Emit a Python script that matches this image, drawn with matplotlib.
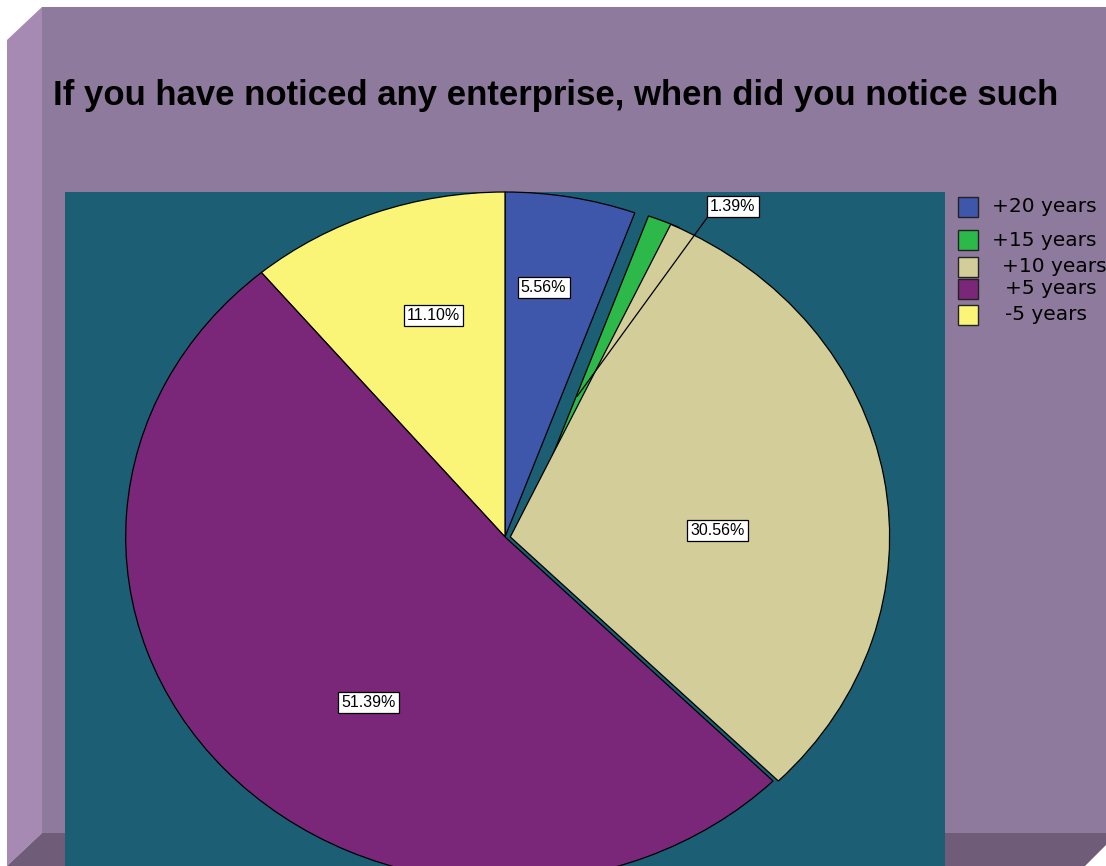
import numpy as np
import matplotlib.pyplot as plt
from matplotlib.patches import Polygon, Rectangle

# Survey answers (percent of respondents)
categories = ['+20 years', '+15 years', '+10 years', '+5 years', '-5 years']
shares = [5.56, 1.39, 30.56, 51.39, 11.10]
colors = ['#3F57AB', '#2DB84A', '#D3CD99', '#7B2779', '#FAF577']
title = 'If you have noticed any enterprise, when did you notice such'

# slice styling: shift (data units), draw order, label radius and turn
shift = [(0, 0), (0.036, -0.009), (0.014, 0), (0, 0), (0, 0)]
order = [1, 2, 3, 4, 1]
label_r = [0.73, 0.45, 0.56, 0.60, 0.67]
label_turn = [2, 0, -8, 10.6, -3.6]

face, light, dark, teal = '#8E7A9C', '#A68AB4', '#6E5C78', '#1C5E73'

fig = plt.figure(figsize=(11.06, 8.66), dpi=100, facecolor='white')

# bevelled panel behind everything, drawn in pixel units
bg = fig.add_axes([0, 0, 1, 1])
bg.set_xlim(0, 1106)
bg.set_ylim(866, 0)
bg.axis('off')
bg.add_patch(Polygon([(42, 7), (1125, 7), (1125, 833), (42, 833)], color=face, lw=0))
bg.add_patch(Polygon([(7, 40), (42, 7), (42, 833), (7, 866)], color=light, lw=0))
bg.add_patch(Polygon([(7, 866), (42, 833), (1118, 833), (1085, 866)], color=dark, lw=0))
bg.text(53, 95, title, fontsize=25, fontweight='bold', family='Liberation Sans',
        ha='left', va='center', color='black')

# legend
rows = [207, 240, 267, 289, 315]
text_x = [992, 992, 1002, 1005, 1005]
for name, col, y, tx in zip(categories, colors, rows, text_x):
    bg.add_patch(Rectangle((958, y - 10), 20, 20, facecolor=col, edgecolor='#222222', lw=1))
    bg.text(tx, y, name, fontsize=14.5, family='DejaVu Sans', ha='left', va='center')

# pie area
ax = fig.add_axes([65 / 1106, 0, 880 / 1106, (866 - 192) / 866])
wedges, _ = ax.pie(shares, colors=colors, startangle=90, counterclock=False,
                   wedgeprops=dict(edgecolor='black', linewidth=0.9))
ax.set_aspect('auto')
ax.set_xlim(-1.16, 1.16)
ax.set_ylim(-0.954, 1.0)
ax.set_frame_on(True)
ax.set_facecolor(teal)
for s in ax.spines.values():
    s.set_visible(False)
ax.set_xticks([])
ax.set_yticks([])

box = dict(boxstyle='square,pad=0.2', facecolor='white', edgecolor='black', lw=0.9)
for w, val, off, z, r, turn in zip(wedges, shares, shift, order, label_r, label_turn):
    w.set_center(off)
    w.set_zorder(z)
    if val < 2:
        # thin slice: label outside with a leader line
        a = np.radians(w.theta1)
        ax.annotate(f'{val:.2f}%', xy=(r * np.cos(a), r * np.sin(a)),
                    xytext=(0.6, 0.958), fontsize=11.5, family='Liberation Sans',
                    ha='center', va='center', bbox=box, zorder=10,
                    arrowprops=dict(arrowstyle='-', color='black', lw=0.9,
                                    relpos=(0, 0), shrinkA=0, shrinkB=0))
        continue
    a = np.radians((w.theta1 + w.theta2) / 2 + turn)
    ax.text(r * np.cos(a), r * np.sin(a), f'{val:.2f}%', fontsize=11.5,
            family='Liberation Sans', ha='center', va='center', bbox=box, zorder=10)

fig.savefig('out.png', dpi=100, facecolor=fig.get_facecolor())
